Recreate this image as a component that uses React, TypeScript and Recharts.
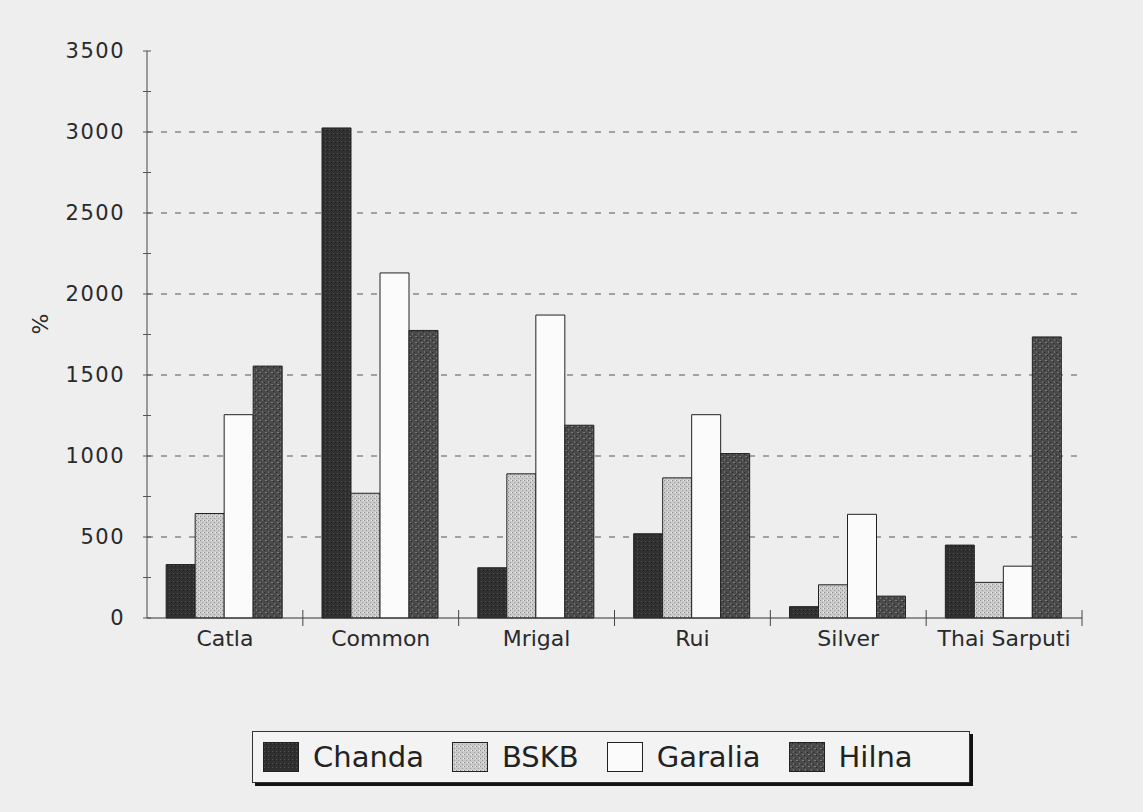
import { BarChart, Bar, XAxis, YAxis, CartesianGrid } from "recharts";

const categories = ["Catla", "Common", "Mrigal", "Rui", "Silver", "Thai Sarputi"];
const chanda = [330, 3025, 310, 520, 70, 450];
const bskb = [645, 770, 890, 865, 205, 220];
const garalia = [1255, 2130, 1870, 1255, 640, 320];
const hilna = [1555, 1775, 1190, 1015, 135, 1735];
const yTicks = [0, 250, 500, 750, 1000, 1250, 1500, 1750, 2000, 2250, 2500, 2750, 3000, 3250, 3500];
const gridValues = [500, 1000, 1500, 2000, 2500, 3000];

const series = [
  { key: "Chanda", fill: "url(#patChanda)" },
  { key: "BSKB", fill: "url(#patBskb)" },
  { key: "Garalia", fill: "#fbfbfb" },
  { key: "Hilna", fill: "url(#patHilna)" },
];

const data = categories.map((name, i) => ({
  name,
  Chanda: chanda[i],
  BSKB: bskb[i],
  Garalia: garalia[i],
  Hilna: hilna[i],
}));

const FONT = "'DejaVu Sans', sans-serif";

function YTick(props: any) {
  const { x, y, payload } = props;
  const major = payload.value % 500 === 0;
  return (
    <g>
      <line x1={x - 4} x2={x + 4} y1={y} y2={y} stroke="#555" />
      {major && (
        <text x={x - 22} y={y + 7} textAnchor="end" fontSize={21} letterSpacing={1.5} fill="#2a2a2a" fontFamily={FONT}>
          {payload.value}
        </text>
      )}
    </g>
  );
}

function XTick(props: any) {
  const { x, y, payload } = props;
  const bx = x + (payload.offset || 0);
  return (
    <g>
      <line x1={bx} x2={bx} y1={y - 8} y2={y + 8} stroke="#444" />
      <text x={x} y={y + 28} textAnchor="middle" fontSize={22} fill="#2a2a2a" fontFamily={FONT}>
        {payload.value}
      </text>
    </g>
  );
}

function Swatch({ fill }: { fill: string }) {
  return (
    <svg width={36} height={30} style={{ display: "block" }}>
      <rect x={0.5} y={0.5} width={35} height={29} fill={fill} stroke="#222" />
    </svg>
  );
}

export default function App() {
  return (
    <div
      style={{
        position: "absolute",
        left: 0,
        top: 0,
        width: 1143,
        height: 812,
        background: "#eeeeee",
        fontFamily: FONT,
      }}
    >
      <BarChart
        width={1143}
        height={812}
        data={data}
        margin={{ top: 51, right: 61, left: 0, bottom: 144 }}
        barCategoryGap="12.3%"
        barGap={0}
      >
        <defs>
          <pattern id="patChanda" width="4" height="4" patternUnits="userSpaceOnUse">
            <rect width="4" height="4" fill="#303030" />
            <rect x="1" y="1" width="1" height="1" fill="#555" />
            <rect x="3" y="2" width="1" height="1" fill="#222" />
          </pattern>
          <pattern id="patBskb" width="4" height="4" patternUnits="userSpaceOnUse">
            <rect width="4" height="4" fill="#cbcbcb" />
            <rect x="0" y="0" width="1" height="1" fill="#8a8a8a" />
            <rect x="2" y="2" width="1" height="1" fill="#9a9a9a" />
            <rect x="3" y="0" width="1" height="1" fill="#eee" />
          </pattern>
          <pattern id="patHilna" width="6" height="6" patternUnits="userSpaceOnUse">
            <rect width="6" height="6" fill="#4a4a4a" />
            <rect x="1" y="0" width="2" height="1" fill="#7a7a7a" />
            <rect x="4" y="3" width="1" height="2" fill="#707070" />
            <rect x="0" y="4" width="1" height="1" fill="#2a2a2a" />
            <rect x="3" y="1" width="1" height="1" fill="#262626" />
          </pattern>
        </defs>
        <CartesianGrid
          vertical={false}
          horizontalValues={gridValues}
          stroke="#555"
          strokeDasharray="6 8"
        />
        <XAxis
          dataKey="name"
          tick={<XTick />}
          tickSize={0}
          tickMargin={0}
          tickLine={false}
          axisLine={{ stroke: "#333" }}
          height={50}
          interval={0}
        />
        <XAxis xAxisId="top" orientation="top" dataKey="name" tick={false} tickLine={false} axisLine={{ stroke: "#999" }} height={0} />
        <YAxis
          domain={[0, 3500]}
          ticks={yTicks}
          interval={0}
          tick={<YTick />}
          tickSize={0}
          tickMargin={0}
          tickLine={false}
          axisLine={{ stroke: "#444" }}
          width={147}
          label={{ value: "%", angle: -90, position: "insideLeft", offset: 40, fontSize: 22, fill: "#2a2a2a", fontFamily: FONT }}
        />
        <YAxis yAxisId="right" orientation="right" domain={[0, 3500]} tick={false} tickLine={false} axisLine={{ stroke: "#999" }} width={0} />
        {series.map((s) => (
          <Bar key={s.key} dataKey={s.key} fill={s.fill} stroke="#222" strokeWidth={1} isAnimationActive={false} />
        ))}
      </BarChart>
      <div
        style={{
          position: "absolute",
          left: 252,
          top: 731,
          width: 718,
          height: 52,
          border: "1px solid #333",
          boxShadow: "3px 3px 0 #111",
          background: "#f3f3f3",
          display: "flex",
          alignItems: "center",
          paddingLeft: 10,
          boxSizing: "border-box",
          gap: 28,
        }}
      >
        {series.map((s) => (
          <div key={s.key} style={{ display: "flex", alignItems: "center", gap: 14 }}>
            <Swatch fill={s.fill} />
            <span style={{ fontSize: 29, color: "#222", lineHeight: "30px" }}>{s.key}</span>
          </div>
        ))}
      </div>
    </div>
  );
}
